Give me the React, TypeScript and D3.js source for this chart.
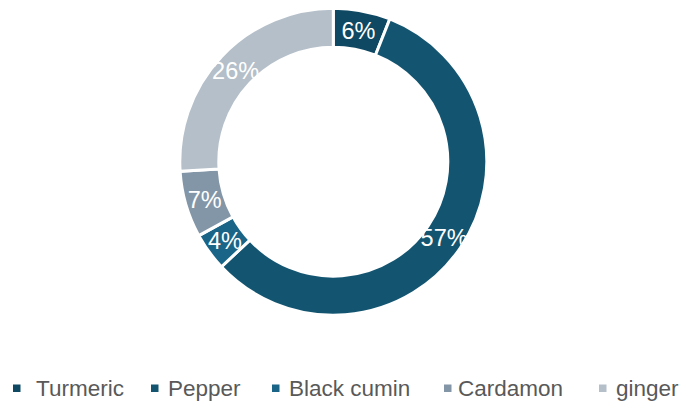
import React from "react";
import * as d3 from "d3";

const categories = ["Turmeric", "Pepper", "Black cumin", "Cardamon", "ginger"];
const values = [6, 57, 4, 7, 26];
const colors = ["#0f4862", "#135571", "#196487", "#8396a8", "#b4bfc9"];

const W = 683;
const H = 405;
const cx = 333.3;
const cy = 161.7;
const outerR = 153.5;
const innerR = 114.5;
const legendMarkerX = [13, 151, 272, 444, 599];
const legendTextX = [36, 168, 289, 458, 616];

export default function App() {
  const pie = d3.pie<number>().sort(null).value((d) => d)(values);
  const arc = d3.arc<d3.PieArcDatum<number>>().innerRadius(innerR).outerRadius(outerR);
  const total = d3.sum(values);
  return (
    <svg
      width={W}
      height={H}
      style={{ position: "absolute", left: 0, top: 0, fontFamily: "'Liberation Sans', Arial, sans-serif" }}
    >
      <rect width={W} height={H} fill="#fff" />
      <g transform={`translate(${cx},${cy})`}>
        {pie.map((p, i) => (
          <path key={i} d={arc(p) || ""} fill={colors[i]} stroke="#fff" strokeWidth={3} />
        ))}
        {pie.map((p, i) => {
          const [x, y] = arc.centroid(p);
          return (
            <text
              key={"l" + i}
              x={x}
              y={y + 1}
              textAnchor="middle"
              dominantBaseline="central"
              fill="#fff"
              fontSize={23.5}
            >
              {Math.round((values[i] / total) * 100) + "%"}
            </text>
          );
        })}
      </g>
      <g>
        {categories.map((c, i) => (
          <g key={c}>
            <rect x={legendMarkerX[i]} y={384.5} width={7.5} height={7.5} fill={colors[i]} />
            <text x={legendTextX[i]} y={395.5} fontSize={22.5} fill="#595959">
              {c}
            </text>
          </g>
        ))}
      </g>
    </svg>
  );
}
